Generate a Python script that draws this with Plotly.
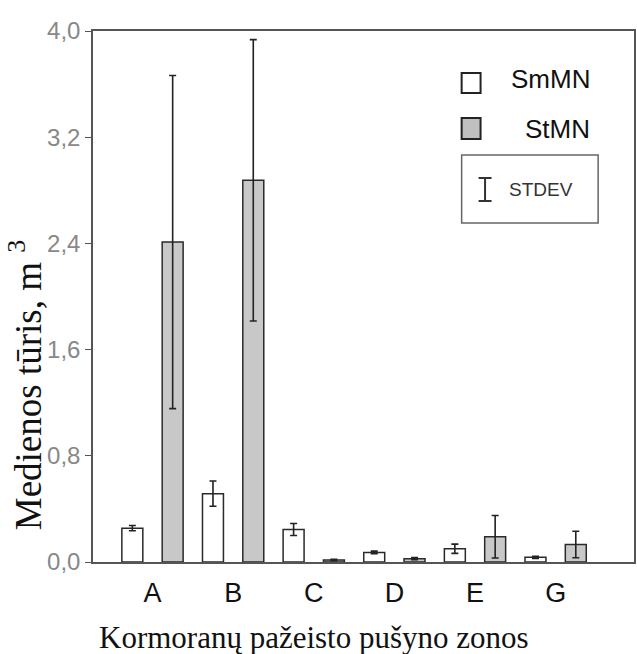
import plotly.graph_objects as go

categories = ["A", "B", "C", "D", "E", "G"]
smmn = [0.255, 0.515, 0.245, 0.072, 0.10, 0.035]
smmn_sd = [0.02, 0.095, 0.045, 0.01, 0.035, 0.008]
stmn = [2.41, 2.875, 0.015, 0.025, 0.19, 0.132]
stmn_sd = [1.255, 1.06, 0.005, 0.008, 0.16, 0.10]
y_ticks = [0.0, 0.8, 1.6, 2.4, 3.2, 4.0]
y_ticktext = ["0,0", "0,8", "1,6", "2,4", "3,2", "4,0"]

W, H = 637, 654
L, R, T, B = 93, 1, 31, 92
PW, PH = W - L - R, H - T - B


def px(x):
    return (x - L) / PW


def py(y):
    return (H - B - y) / PH


err_style = dict(type="data", color="#222222", thickness=1.6, width=3.5)
bar_line = dict(color="#2a2a2a", width=1.5)

fig = go.Figure()
fig.add_trace(go.Bar(
    x=categories, y=smmn, name="SmMN",
    marker=dict(color="#ffffff", line=bar_line),
    error_y=dict(array=smmn_sd, **err_style),
))
fig.add_trace(go.Bar(
    x=categories, y=stmn, name="StMN",
    marker=dict(color="#c8c8c8", line=bar_line),
    error_y=dict(array=stmn_sd, **err_style),
))

shapes = []
ann = []
# legend squares
shapes.append(dict(type="rect", xref="paper", yref="paper",
                   x0=px(463), x1=px(482), y0=py(93), y1=py(73),
                   fillcolor="#ffffff", line=dict(color="#222", width=2)))
shapes.append(dict(type="rect", xref="paper", yref="paper",
                   x0=px(463), x1=px(482), y0=py(139), y1=py(118),
                   fillcolor="#c0c0c0", line=dict(color="#222", width=2)))
# STDEV box
shapes.append(dict(type="rect", xref="paper", yref="paper",
                   x0=px(463), x1=px(600), y0=py(223), y1=py(155),
                   fillcolor="#ffffff", line=dict(color="#666", width=1.5)))
# error-bar glyph
for (xa, ya, xb, yb) in [(486.5, 178, 486.5, 201), (480, 178, 493, 178), (480, 201, 493, 201)]:
    shapes.append(dict(type="line", xref="paper", yref="paper",
                       x0=px(xa), y0=py(ya), x1=px(xb), y1=py(yb),
                       line=dict(color="#333", width=2)))

leg_font = dict(family="Liberation Sans, Arial", size=26, color="#111")
ann.append(dict(text="SmMN", xref="paper", yref="paper", x=px(594), y=py(79),
                xanchor="right", yanchor="middle", showarrow=False, font=leg_font))
ann.append(dict(text="StMN", xref="paper", yref="paper", x=px(594), y=py(129),
                xanchor="right", yanchor="middle", showarrow=False, font=leg_font))
ann.append(dict(text="STDEV", xref="paper", yref="paper", x=px(509), y=py(189),
                xanchor="left", yanchor="middle", showarrow=False,
                font=dict(family="Liberation Sans, Arial", size=19, color="#333")))
# axis titles
ann.append(dict(text="Kormoranų pažeisto pušyno zonos", xref="paper", yref="paper",
                x=px(315), y=py(637), xanchor="center", yanchor="middle", showarrow=False,
                font=dict(family="Liberation Serif, Times New Roman, serif", size=31, color="#111")))
ann.append(dict(text="Medienos tūris, m <sup>3</sup>", xref="paper", yref="paper",
                x=px(25), y=py(385), xanchor="center", yanchor="middle", showarrow=False,
                textangle=-90,
                font=dict(family="Liberation Serif, Times New Roman, serif", size=37, color="#111")))

fig.update_layout(
    width=W, height=H,
    margin=dict(l=L, r=R, t=T, b=B, pad=0),
    paper_bgcolor="white", plot_bgcolor="white",
    barmode="group", bargap=0.0, bargroupgap=0.48,
    showlegend=False,
    shapes=shapes, annotations=ann,
)
fig.update_xaxes(
    range=[-0.738, 5.972], showgrid=False, zeroline=False,
    showline=True, mirror=True, linecolor="#555", linewidth=1.5,
    ticks="", ticklabelstandoff=6,
    tickfont=dict(family="Liberation Sans, Arial", size=27, color="#111"),
)
fig.update_yaxes(
    range=[0, 4.0], showgrid=False, zeroline=False,
    showline=True, mirror=True, linecolor="#555", linewidth=1.5,
    ticks="outside", ticklen=6, tickcolor="#555", tickwidth=1.2,
    tickvals=y_ticks, ticktext=y_ticktext, ticklabelstandoff=0,
    tickfont=dict(family="Liberation Sans, Arial", size=24, color="#888"),
)

fig.write_html("out.html", config={"displayModeBar": False},
               post_script="document.body.style.margin='0px';document.body.style.overflow='hidden';")
